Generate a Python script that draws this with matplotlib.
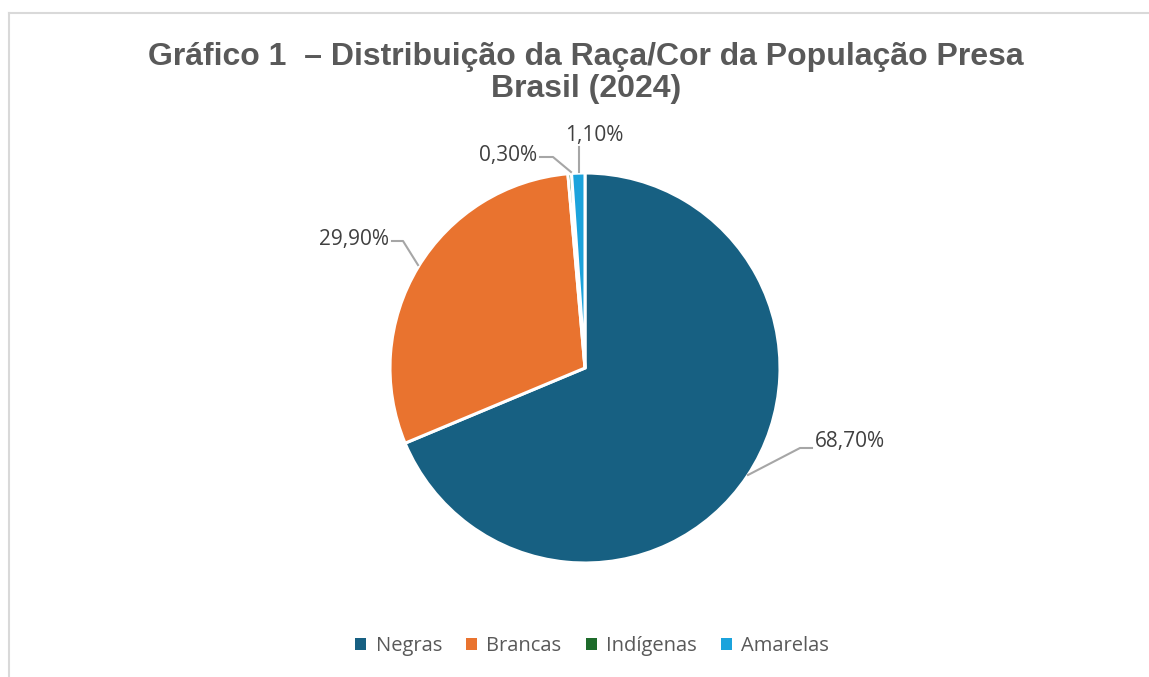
import matplotlib.pyplot as plt
from matplotlib.lines import Line2D
from matplotlib.patches import Patch

categories = ['Negras', 'Brancas', 'Indígenas', 'Amarelas']
values = [68.7, 29.9, 0.3, 1.1]
labels = ['68,70%', '29,90%', '0,30%', '1,10%']
colors = ['#176082', '#E9732F', '#1E6B2B', '#1BA3DC']

W, H = 1149, 677
fig = plt.figure(figsize=(W / 100, H / 100), dpi=100)
ax = fig.add_axes([0, 0, 1, 1])

cx, cy, r = 585, H - 368, 195
wedges, _ = ax.pie(values, colors=colors, startangle=90, counterclock=False,
                   center=(cx, cy), radius=r, frame=True,
                   wedgeprops=dict(edgecolor='white', linewidth=2.2))
ax.set_xlim(0, W)
ax.set_ylim(0, H)
ax.set_aspect('equal')
ax.axis('off')

# chart border (top and left visible)
ax.add_line(Line2D([9, 9], [0, H - 13], color='#d9d9d9', lw=1.5))
ax.add_line(Line2D([9, W + 5], [H - 13, H - 13], color='#d9d9d9', lw=1.5))

# leader lines + labels (pixel positions, y from top)
leaders = [
    [(748, 475), (800, 448), (812, 448)],
    [(418, 265), (403, 241), (392, 241)],
    [(571, 172), (553, 157), (540, 157)],
    [(579, 172), (579, 147)],
]
label_pos = [(815, 441, 'left'), (389, 240, 'right'), (537, 155, 'right'), (594, 135, 'center')]
for pts, (tx, ty, ha), lab in zip(leaders, label_pos, labels):
    xs = [p[0] for p in pts]
    ys = [H - p[1] for p in pts]
    ax.add_line(Line2D(xs, ys, color='#a6a6a6', lw=1.5))
    ax.text(tx, H - ty, lab, ha=ha, va='center', fontsize=15,
            family='Open Sans', color='#404040')

ax.text(586, H - 73, 'Gráfico 1  – Distribuição da Raça/Cor da População Presa\nBrasil (2024)',
        ha='center', va='center', fontsize=23, fontweight='bold',
        family='Liberation Sans', color='#595959', linespacing=1.1)

handles = [Patch(facecolor=c, edgecolor='none') for c in colors]
leg = ax.legend(handles, categories, loc='center', bbox_to_anchor=(592 / W, 1 - 646 / H),
                ncol=4, frameon=False, handlelength=0.55, handleheight=0.55,
                handletextpad=0.45, columnspacing=1.2,
                prop={'family': 'Open Sans', 'size': 14.5})
for t in leg.get_texts():
    t.set_color('#595959')

fig.savefig('out.png', dpi=100)
